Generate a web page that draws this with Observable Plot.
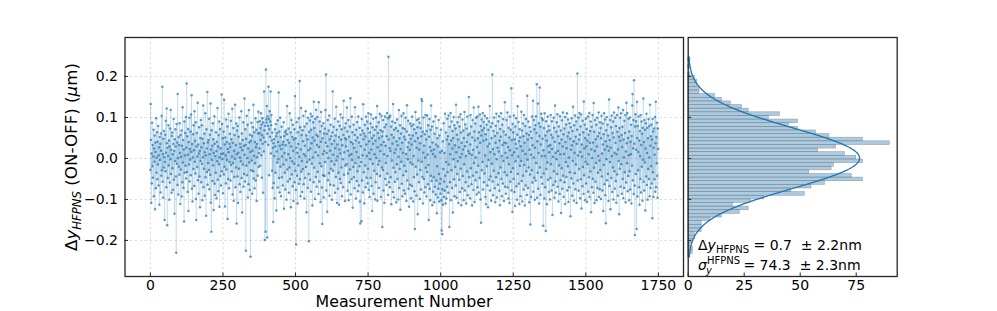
<!DOCTYPE html>
<html><head><meta charset="utf-8">
<script src="https://cdn.jsdelivr.net/npm/d3@7"></script>
<script src="https://cdn.jsdelivr.net/npm/@observablehq/plot@0.6"></script>
<style>
body{margin:0;background:#fff;}
#wrap{position:relative;width:997px;height:311px;overflow:hidden;font-family:"DejaVu Sans",sans-serif;background:#fff;}
#left{position:absolute;left:0;top:0;}
#right{position:absolute;left:685px;top:0;}
#over{position:absolute;left:0;top:0;pointer-events:none;}
</style></head>
<body><div id="wrap"><div id="left"></div><div id="right"></div>
<svg id="over" width="997" height="311" font-family="DejaVu Sans" font-size="14" fill="#000">
  <text transform="translate(77,157) rotate(-90)" text-anchor="middle" font-size="16.7">Δ<tspan font-style="italic">y</tspan><tspan font-style="italic" font-size="11.7" dy="3.5">HFPNS</tspan><tspan dy="-3.5"> (ON-OFF) (</tspan><tspan font-style="italic">μ</tspan>m)</text>
  <text x="404" y="307.3" text-anchor="middle" font-size="15.8">Measurement Number</text>
  <text x="698" y="250" font-size="14">Δ<tspan font-style="italic">y</tspan><tspan font-size="10" dy="3">HFPNS</tspan><tspan dy="-3">&#160;=&#160;0.7&#160;&#160;±&#160;2.2nm</tspan></text>
  <text x="698" y="270" font-size="14"><tspan font-style="italic">σ</tspan><tspan font-size="10" dy="-6">HFPNS</tspan><tspan font-size="10" font-style="italic" dx="-34" dy="10">y</tspan><tspan dx="27" dy="-4">&#160;=&#160;74.3&#160;&#160;±&#160;2.3nm</tspan></text>
</svg>
</div>
<script>
const deltaNm = [
-28,133,45,-108,12,-61,87,-19,33,-47,5,70,-92,24,-8,56,-124,39,16,-73,98,-35,2,64,-51,
41,-15,79,-66,8,27,-113,52,-4,36,-83,61,19,-42,104,-29,175,-57,11,-96,48,-22,67,3,-150,
-9,58,-31,92,14,-70,122,37,-163,26,-48,6,81,-17,44,-101,30,-59,73,-2,118,-38,21,-84,55,
63,-24,10,-77,35,96,-52,18,-135,47,-6,71,29,-44,-230,84,-13,39,-65,157,1,-88,52,-20,33,
-40,86,13,-111,57,-27,4,68,-93,31,-58,125,-10,45,-72,22,-154,90,-35,7,62,-18,101,-49,26,
183,-33,54,-82,9,72,-128,40,-15,99,-56,23,-3,66,-41,107,16,154,-74,35,-105,2,59,-26,81,
20,-67,115,-8,43,-37,88,-99,-150,29,62,-21,5,136,-53,34,-86,12,76,-44,19,-119,50,-6,94,
-58,27,81,-13,-102,48,3,129,-70,37,-25,60,-91,15,110,-46,8,-140,71,24,-33,162,-64,39,-11,
45,-28,97,-75,10,58,-40,134,-108,22,-179,69,-4,31,-55,86,-17,47,-126,13,103,-62,36,-89,6,
-35,64,18,-97,41,-7,123,-52,29,-80,57,-14,90,-118,3,72,-43,25,-66,11,156,-31,84,-2,49,
-85,12,66,-39,143,-20,34,-117,51,7,-61,95,-27,40,-4,78,-148,23,-50,109,15,-73,36,-9,60,
28,-54,92,-16,47,-32,5,121,-88,38,-11,74,-103,19,-45,57,-1,131,-70,33,-22,85,-159,10,68,
-44,79,-109,14,53,-25,100,-63,2,36,-82,27,-7,115,-48,61,-132,20,45,-15,88,-69,31,-38,146,
9,-56,71,33,-225,48,-18,104,-41,1,82,-95,24,-63,118,-10,39,-77,58,16,-240,43,-29,87,-5,
55,-86,19,76,-31,131,-49,6,64,-73,40,-12,98,-54,27,70,-104,35,3,89,-42,61,114,-21,13,
62,24,91,-18,74,45,110,8,83,-47,57,98,36,-84,88,51,17,163,69,-199,80,40,-179,217,95,
87,128,-193,60,102,79,33,175,96,-41,71,115,52,90,163,12,81,106,44,-30,63,-72,26,-155,37,
-60,47,6,-97,71,29,-35,84,54,-127,17,62,-10,93,-71,40,-2,161,-48,66,-83,31,99,-20,52,
-92,23,77,-46,5,34,-66,41,-15,88,-123,55,13,-35,64,-76,32,68,-4,-101,59,128,-27,45,-56,
10,73,-84,38,-22,110,-50,1,63,-119,29,94,-39,-7,52,-68,82,19,-104,46,-13,71,-58,152,-30,
49,-77,-210,26,89,-42,14,-110,64,35,-17,98,-62,4,189,-51,76,-92,22,123,-32,57,-6,-82,69,
-26,42,104,-63,11,-98,78,31,-48,6,115,-21,56,-131,85,-9,47,-72,99,20,-38,-202,65,-3,93,
-52,24,109,-81,70,37,-13,103,-115,51,2,88,-58,138,-23,74,44,-99,96,15,-45,119,58,-69,33,
101,-33,54,7,-87,137,28,-56,90,-12,66,-106,41,113,-19,79,-71,-160,49,11,-41,86,-95,61,18,
-43,73,-9,118,38,205,-78,13,60,-130,30,94,-53,1,68,-36,105,-91,47,19,-64,82,-25,54,-7,
35,-101,63,163,-30,9,77,-66,43,-15,97,-84,25,56,-45,126,-5,70,-109,34,5,-74,90,-35,52,
-113,22,80,-50,12,107,-60,46,-22,71,-92,32,99,-2,-70,57,141,-40,15,75,-104,49,-18,86,29,
46,-14,124,66,-79,19,-37,94,-102,53,7,-58,78,-27,147,-88,40,10,-51,102,-4,64,-120,36,-21,
82,-46,26,-73,57,125,-11,44,-98,70,16,-55,89,-31,51,-80,102,3,-66,39,-19,75,-105,-159,58,
30,-9,-153,96,-54,68,8,-83,132,47,-34,61,-110,21,82,-17,54,-70,102,34,-47,6,90,-61,73,
-26,110,-77,42,14,-94,63,-2,85,-48,107,22,-67,50,-128,76,-13,36,97,-86,56,-30,10,70,-100,
43,-58,100,1,78,-38,128,-103,27,62,-15,88,-72,50,-6,109,-43,18,69,-94,33,104,-22,54,-167,
66,-28,94,-78,40,10,-109,76,102,-50,31,-11,83,-65,54,111,-37,6,98,-89,248,46,-58,101,25,
-70,105,18,-46,78,-112,58,-5,90,36,-82,133,-23,51,-95,70,13,-57,87,-34,22,74,-107,42,-14,
95,-50,32,67,-100,4,118,-72,49,-26,81,-125,23,61,-8,104,-62,38,-92,74,14,-41,110,-78,53,
-18,72,-86,46,99,-31,11,-104,66,130,-54,28,-2,92,-74,39,-118,57,21,-64,85,-10,48,-97,79,
34,-67,102,-14,56,-105,83,6,-46,71,-80,-172,42,113,-20,62,-91,26,94,-39,76,-136,50,-5,97,
-58,22,87,-99,37,-28,74,-76,54,145,-8,140,-45,65,-110,14,100,-50,31,-83,59,2,-70,106,-23,
46,-93,67,-33,105,9,-63,81,-16,-150,53,96,-74,28,-102,70,-42,129,19,-55,78,-114,39,11,-81,
90,-46,22,-107,60,-69,5,103,-88,34,-54,74,-134,-19,49,-95,29,-74,94,-38,-105,56,-62,15,-86,
-50,70,-102,-176,19,-185,-75,42,-113,-26,86,-94,-56,13,-79,109,-42,-110,63,-9,-98,46,-69,97,-34,
54,-84,105,-15,35,-167,77,-58,10,111,-102,44,-29,90,-72,24,67,-132,50,-2,101,-51,81,-92,32,
-21,73,-66,131,15,-96,58,-38,88,-7,46,-109,101,27,-52,78,-82,3,108,-25,63,-114,38,11,-73,
95,-43,22,68,-102,50,-14,113,-78,30,83,-58,6,-110,73,40,-32,102,-90,57,18,-68,150,-46,12,
61,-97,34,106,-24,78,-63,9,-115,51,94,-42,21,-77,124,-11,66,-106,44,85,-53,2,99,-34,-88,
28,102,-70,49,-18,126,-83,64,14,-48,107,38,-100,79,-157,56,95,-29,69,-9,111,-76,43,89,-58,
74,-37,104,7,-94,59,-112,46,82,-19,98,-66,30,-119,70,-4,90,-52,36,128,-78,16,-44,77,-103,
50,-13,86,205,-56,23,-90,67,-30,100,10,-73,55,-107,38,80,-46,109,-2,-95,62,26,-64,91,-36,
17,103,-79,44,-114,72,-22,53,110,-50,6,-92,82,33,-61,96,-6,66,-104,39,-34,137,-69,13,58,
-86,37,94,-41,2,112,-71,28,-98,75,-14,51,-109,102,20,-57,70,-33,171,-78,45,8,-130,84,-24,
64,-50,105,15,-82,47,-116,78,-7,35,98,-68,24,-101,58,127,-38,5,89,-62,42,-111,72,-18,51,
-92,30,-6,114,-55,68,-105,19,85,-42,54,-76,106,-16,38,-115,79,11,-66,96,-31,61,-89,153,-3,
46,-72,90,-22,57,-107,21,76,-39,-161,66,9,-94,50,-29,102,-59,32,141,-81,2,94,-47,71,-101,
26,81,-54,103,-11,62,181,-96,42,-35,134,-74,13,86,-110,55,173,-22,77,-89,34,109,-46,6,98,
-62,48,94,-164,20,-37,74,-98,110,6,-70,56,-177,91,-26,44,-112,66,-10,102,-52,30,79,-82,15,
69,-100,33,-48,106,-14,58,-78,91,23,-138,51,4,-65,99,-31,75,-96,41,129,-56,14,-84,65,-2,
88,-38,108,-69,18,54,-105,78,-17,37,-87,103,10,-53,68,-133,46,-24,93,-74,29,112,-42,59,-94,
11,73,-58,101,-111,40,-9,83,-45,25,110,-78,54,-19,95,-106,63,2,-70,86,-34,48,-141,76,21,
-49,98,32,-91,67,-6,126,-61,42,-103,81,14,-36,105,-75,53,-15,90,-109,36,70,207,-54,7,100,
-79,46,-26,111,58,-97,16,78,-51,107,-122,34,5,-68,92,-21,64,-87,139,-41,25,82,-102,50,-8,
97,-61,30,72,-106,44,-14,102,-81,58,10,-46,111,-94,38,67,-32,90,-131,22,77,-70,1,106,-50,
39,-84,135,-23,65,-109,18,94,-57,47,-11,82,-102,29,99,-72,54,-35,6,112,-94,62,-5,-75,88,
-28,74,-99,49,104,-44,12,-78,85,34,-128,59,-16,110,-63,22,95,-90,42,-158,69,-2,101,-53,30,
82,-38,56,-104,19,144,-67,45,-9,94,-124,26,76,-48,105,6,-82,62,-22,90,-100,51,112,-31,14,
-74,99,38,-55,79,-108,10,106,-39,65,-91,22,124,-6,53,-136,74,-25,99,43,-69,110,-14,57,-86,
28,77,-50,118,-97,46,3,-72,92,-34,62,106,-107,17,-59,136,37,-12,111,-80,50,-43,97,8,-102,
66,-31,100,-76,41,10,82,-110,55,-18,129,157,-54,25,94,-87,191,36,-66,-187,78,108,-38,91,21,
-172,138,50,-93,79,-29,16,102,-70,44,-113,67,6,-50,106,-83,33,90,-20,60,-103,75,-3,146,-57,
40,-78,94,-10,70,-127,24,86,-44,109,-65,13,75,-101,49,-26,96,-50,2,79,-92,131,31,-72,54,
-19,83,-61,46,-146,96,-34,66,-94,26,73,-51,9,101,-81,37,138,-70,52,-12,87,-42,-96,73,23
];

// Histogram (counts per bin, from the top bin down), bin layout in µm
const histCounts = [1,0,1,0,1,3,4,4,5,5,12,15,19,24,27,41,36,49,45,49,57,63,78,90,66,58,70,75,78,65,64,54,73,78,61,55,46,52,34,28,20,27,23,15,10,6,6,6,3,3,2,1,2,2,1];
const histTopEdge = 0.2453;
const histBinWidth = 0.00885;

// Gaussian fit (from the annotation): mean 0.7 nm, sigma 74.3 nm, peak height in counts
const fitMeanUm = 0.0007;
const fitSigmaUm = 0.0743;
const fitPeakCount = 76.5;

const xTicks = [0, 250, 500, 750, 1000, 1250, 1500, 1750];
const yTicks = [-0.2, -0.1, 0.0, 0.1, 0.2];
const histTicks = [0, 25, 50, 75];

// ---------- build ----------
const series = deltaNm.map((v, i) => ({i, v: v / 1000}));
const n = series.length;
const xDom = [-0.05 * (n - 1), (n - 1) * 1.05];
const yDom = [-0.288, 0.295];

const L = {width: 685, height: 311, ml: 124.5, mr: 2, mt: 37, mb: 35};
const pxX = (L.width - L.ml - L.mr) / (xDom[1] - xDom[0]);
const pxY = (L.height - L.mt - L.mb) / (yDom[1] - yDom[0]);
const tk = 3.5;

const blue = "#1f77b4";
const frameColor = "#262626";
const gridStyle = {stroke: "#b0b0b0", strokeOpacity: 0.55, strokeWidth: 0.8, strokeDasharray: "2.5,2.5"};

const left = Plot.plot({
  width: L.width, height: L.height,
  marginLeft: L.ml, marginRight: L.mr, marginTop: L.mt, marginBottom: L.mb,
  x: {domain: xDom}, y: {domain: yDom},
  style: {background: "transparent", fontFamily: "DejaVu Sans", fontSize: "14px", color: "#000"},
  marks: [
    Plot.gridX(xTicks, gridStyle),
    Plot.gridY(yTicks, gridStyle),
    Plot.line(series, {x: "i", y: "v", stroke: blue, strokeOpacity: 0.2, strokeWidth: 0.75}),
    Plot.dot(series, {x: "i", y: "v", r: 1.25, fill: blue, fillOpacity: 0.72}),
    Plot.ruleY(yTicks, {y: d => d, x1: xDom[0], x2: xDom[0] + tk / pxX, stroke: frameColor, strokeWidth: 1}),
    Plot.ruleX(xTicks, {x: d => d, y1: yDom[0], y2: yDom[0] + tk / pxY, stroke: frameColor, strokeWidth: 1}),
    Plot.axisY(yTicks, {tickSize: 0, tickPadding: 7, tickFormat: d3.format(".1f"), label: null}),
    Plot.axisX(xTicks, {tickSize: 0, tickPadding: 3.5, tickFormat: d3.format("d"), label: null}),
    Plot.frame({stroke: frameColor, strokeWidth: 1.3})
  ]
});
document.getElementById("left").appendChild(left);

// right panel
const bins = histCounts.map((c, k) => ({hi: histTopEdge - k * histBinWidth, lo: histTopEdge - (k + 1) * histBinWidth, n: c}));
const ext = d3.extent(series, d => d.v);
const fit = d3.range(0, 301).map(k => {
  const v = ext[0] + (ext[1] - ext[0]) * k / 300;
  return {v, c: fitPeakCount * Math.exp(-0.5 * ((v - fitMeanUm) / fitSigmaUm) ** 2)};
});
const R = {width: 312, height: 311, ml: 2.7, mr: 100.3, mt: 37, mb: 35};
const hDom = [0, 93.3];
const pxH = (R.width - R.ml - R.mr) / (hDom[1] - hDom[0]);

const right = Plot.plot({
  width: R.width, height: R.height,
  marginLeft: R.ml, marginRight: R.mr, marginTop: R.mt, marginBottom: R.mb,
  x: {domain: hDom}, y: {domain: yDom, axis: null},
  style: {background: "transparent", fontFamily: "DejaVu Sans", fontSize: "14px", color: "#000", overflow: "visible"},
  marks: [
    Plot.rect(bins.filter(b => b.n > 0), {x1: 0, x2: "n", y1: "lo", y2: "hi", fill: blue, fillOpacity: 0.38, stroke: "#808080", strokeOpacity: 0.7, strokeWidth: 0.6}),
    Plot.line(fit, {x: "c", y: "v", stroke: blue, strokeWidth: 1.3}),
    Plot.ruleY(yTicks, {y: d => d, x1: hDom[0], x2: hDom[0] + tk / pxH, stroke: frameColor, strokeWidth: 1}),
    Plot.ruleX(histTicks, {x: d => d, y1: yDom[0], y2: yDom[0] + tk / pxY, stroke: frameColor, strokeWidth: 1}),
    Plot.axisX(histTicks, {tickSize: 0, tickPadding: 3.5, tickFormat: d3.format("d"), label: null}),
    Plot.frame({stroke: frameColor, strokeWidth: 1.3})
  ]
});
document.getElementById("right").appendChild(right);
</script>
</body></html>
